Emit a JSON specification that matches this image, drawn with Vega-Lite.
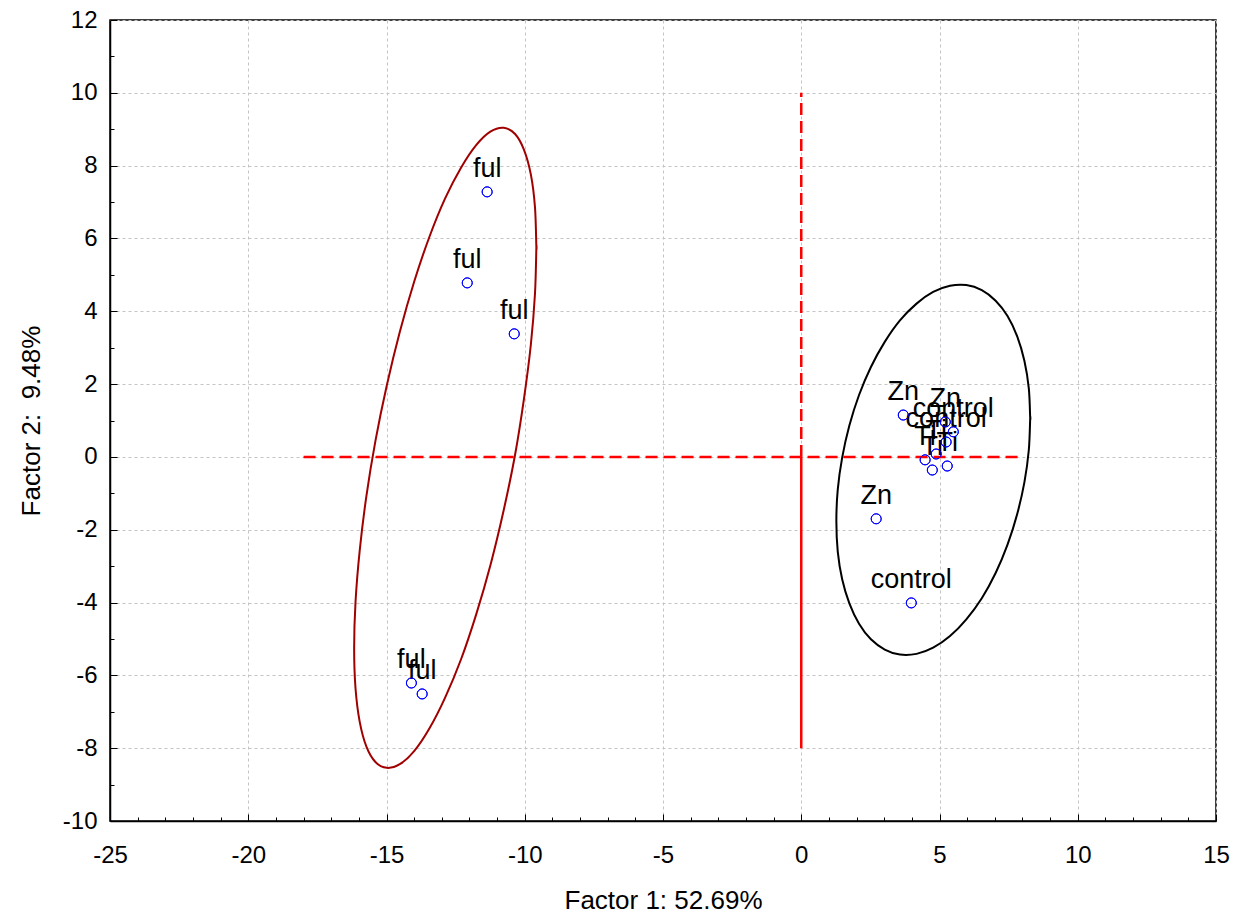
{
  "$schema": "https://vega.github.io/schema/vega-lite/v6.json",
  "width": 1106,
  "height": 801,
  "autosize": {"type": "none"},
  "padding": {"left": 110, "top": 20, "right": 20, "bottom": 93},
  "background": "white",
  "config": {
    "view": {"stroke": "black", "strokeWidth": 1.5},
    "font": "Liberation Sans",
    "axis": {"labelFont": "Liberation Sans", "titleFont": "Liberation Sans", "labelColor": "black", "titleColor": "black", "titleFontWeight": "normal", "domainColor": "black", "tickColor": "black"}
  },
  "datasets": {
    "pts": [
      {"label": "ful", "f1": -11.36, "f2": 7.28},
      {"label": "ful", "f1": -12.08, "f2": 4.78},
      {"label": "ful", "f1": -10.38, "f2": 3.38},
      {"label": "ful", "f1": -14.10, "f2": -6.21},
      {"label": "ful", "f1": -13.71, "f2": -6.51},
      {"label": "Zn", "f1": 3.69, "f2": 1.15},
      {"label": "Zn", "f1": 5.21, "f2": 0.96},
      {"label": "Zn", "f1": 2.71, "f2": -1.70},
      {"label": "control", "f1": 5.50, "f2": 0.69},
      {"label": "control", "f1": 5.24, "f2": 0.41},
      {"label": "control", "f1": 3.98, "f2": -4.01},
      {"label": "Ti", "f1": 4.88, "f2": 0.08},
      {"label": "Ti", "f1": 4.48, "f2": -0.08},
      {"label": "Ti", "f1": 4.74, "f2": -0.36},
      {"label": "Ti", "f1": 5.28, "f2": -0.25}
    ],
    "dashedRules": [
      {"x": -18, "x2": 8, "y": 0, "y2": 0},
      {"x": 0, "x2": 0, "y": 0, "y2": 10}
    ],
    "solidRules": [
      {"x": 0, "x2": 0, "y": -8, "y2": 0}
    ],
    "minorX": [{"v": -25}, {"v": 15}],
    "ellipses": [
      {"g": "ctl", "t": 0, "x": 8.28, "y": 1.06},
      {"g": "ctl", "t": 10, "x": 8.23, "y": 0.19},
      {"g": "ctl", "t": 20, "x": 8.07, "y": -0.70},
      {"g": "ctl", "t": 30, "x": 7.81, "y": -1.57},
      {"g": "ctl", "t": 40, "x": 7.46, "y": -2.41},
      {"g": "ctl", "t": 50, "x": 7.03, "y": -3.19},
      {"g": "ctl", "t": 60, "x": 6.53, "y": -3.88},
      {"g": "ctl", "t": 70, "x": 5.97, "y": -4.46},
      {"g": "ctl", "t": 80, "x": 5.38, "y": -4.92},
      {"g": "ctl", "t": 90, "x": 4.77, "y": -5.24},
      {"g": "ctl", "t": 100, "x": 4.17, "y": -5.41},
      {"g": "ctl", "t": 110, "x": 3.57, "y": -5.43},
      {"g": "ctl", "t": 120, "x": 3.02, "y": -5.29},
      {"g": "ctl", "t": 130, "x": 2.52, "y": -5.01},
      {"g": "ctl", "t": 140, "x": 2.09, "y": -4.58},
      {"g": "ctl", "t": 150, "x": 1.74, "y": -4.02},
      {"g": "ctl", "t": 160, "x": 1.48, "y": -3.36},
      {"g": "ctl", "t": 170, "x": 1.32, "y": -2.60},
      {"g": "ctl", "t": 180, "x": 1.27, "y": -1.77},
      {"g": "ctl", "t": 190, "x": 1.32, "y": -0.90},
      {"g": "ctl", "t": 200, "x": 1.48, "y": -0.02},
      {"g": "ctl", "t": 210, "x": 1.74, "y": 0.86},
      {"g": "ctl", "t": 220, "x": 2.09, "y": 1.70},
      {"g": "ctl", "t": 230, "x": 2.52, "y": 2.47},
      {"g": "ctl", "t": 240, "x": 3.02, "y": 3.16},
      {"g": "ctl", "t": 250, "x": 3.57, "y": 3.75},
      {"g": "ctl", "t": 260, "x": 4.17, "y": 4.21},
      {"g": "ctl", "t": 270, "x": 4.77, "y": 4.53},
      {"g": "ctl", "t": 280, "x": 5.38, "y": 4.70},
      {"g": "ctl", "t": 290, "x": 5.97, "y": 4.72},
      {"g": "ctl", "t": 300, "x": 6.53, "y": 4.58},
      {"g": "ctl", "t": 310, "x": 7.03, "y": 4.29},
      {"g": "ctl", "t": 320, "x": 7.46, "y": 3.87},
      {"g": "ctl", "t": 330, "x": 7.81, "y": 3.31},
      {"g": "ctl", "t": 340, "x": 8.07, "y": 2.64},
      {"g": "ctl", "t": 350, "x": 8.23, "y": 1.88},
      {"g": "ctl", "t": 360, "x": 8.28, "y": 1.06},
      {"g": "ful", "t": 0, "x": -9.58, "y": 5.75},
      {"g": "ful", "t": 10, "x": -9.63, "y": 4.48},
      {"g": "ful", "t": 20, "x": -9.78, "y": 3.08},
      {"g": "ful", "t": 30, "x": -10.03, "y": 1.59},
      {"g": "ful", "t": 40, "x": -10.35, "y": 0.06},
      {"g": "ful", "t": 50, "x": -10.76, "y": -1.46},
      {"g": "ful", "t": 60, "x": -11.23, "y": -2.94},
      {"g": "ful", "t": 70, "x": -11.75, "y": -4.31},
      {"g": "ful", "t": 80, "x": -12.30, "y": -5.55},
      {"g": "ful", "t": 90, "x": -12.88, "y": -6.61},
      {"g": "ful", "t": 100, "x": -13.45, "y": -7.46},
      {"g": "ful", "t": 110, "x": -14.00, "y": -8.08},
      {"g": "ful", "t": 120, "x": -14.52, "y": -8.44},
      {"g": "ful", "t": 130, "x": -14.99, "y": -8.54},
      {"g": "ful", "t": 140, "x": -15.40, "y": -8.38},
      {"g": "ful", "t": 150, "x": -15.73, "y": -7.95},
      {"g": "ful", "t": 160, "x": -15.97, "y": -7.27},
      {"g": "ful", "t": 170, "x": -16.12, "y": -6.36},
      {"g": "ful", "t": 180, "x": -16.17, "y": -5.26},
      {"g": "ful", "t": 190, "x": -16.12, "y": -3.98},
      {"g": "ful", "t": 200, "x": -15.97, "y": -2.58},
      {"g": "ful", "t": 210, "x": -15.73, "y": -1.09},
      {"g": "ful", "t": 220, "x": -15.40, "y": 0.44},
      {"g": "ful", "t": 230, "x": -14.99, "y": 1.96},
      {"g": "ful", "t": 240, "x": -14.52, "y": 3.43},
      {"g": "ful", "t": 250, "x": -14.00, "y": 4.81},
      {"g": "ful", "t": 260, "x": -13.45, "y": 6.04},
      {"g": "ful", "t": 270, "x": -12.88, "y": 7.10},
      {"g": "ful", "t": 280, "x": -12.30, "y": 7.95},
      {"g": "ful", "t": 290, "x": -11.75, "y": 8.57},
      {"g": "ful", "t": 300, "x": -11.23, "y": 8.94},
      {"g": "ful", "t": 310, "x": -10.76, "y": 9.04},
      {"g": "ful", "t": 320, "x": -10.35, "y": 8.87},
      {"g": "ful", "t": 330, "x": -10.03, "y": 8.44},
      {"g": "ful", "t": 340, "x": -9.78, "y": 7.76},
      {"g": "ful", "t": 350, "x": -9.63, "y": 6.86},
      {"g": "ful", "t": 360, "x": -9.58, "y": 5.75}
    ]
  },
  "resolve": {"axis": {"x": "independent", "y": "independent"}},
  "layer": [
    {
      "data": {"name": "minorX"},
      "mark": {"type": "point", "opacity": 0},
      "encoding": {
        "x": {"field": "v", "type": "quantitative", "scale": {"domain": [-25, 15], "nice": false, "zero": false},
          "axis": {"orient": "bottom", "values": [-24,-23,-22,-21,-19,-18,-17,-16,-14,-13,-12,-11,-9,-8,-7,-6,-4,-3,-2,-1,1,2,3,4,6,7,8,9,11,12,13,14], "labels": false, "grid": false, "domain": false, "tickSize": -4, "tickWidth": 1, "title": null}},
        "y": {"datum": 0, "type": "quantitative", "scale": {"domain": [-10, 12], "nice": false, "zero": false},
          "axis": {"orient": "left", "values": [-9,-7,-5,-3,-1,1,3,5,7,9,11], "labels": false, "grid": false, "domain": false, "tickSize": -4, "tickWidth": 1, "title": null}}
      }
    },
    {
      "data": {"name": "pts"},
      "mark": {"type": "point", "shape": "circle", "filled": false, "stroke": "#0000ff", "strokeWidth": 1, "size": 100, "opacity": 1},
      "encoding": {
        "x": {"field": "f1", "type": "quantitative", "scale": {"domain": [-25, 15], "nice": false, "zero": false},
          "axis": {"orient": "bottom", "values": [-25,-20,-15,-10,-5,0,5,10,15], "labelExpr": "datum.value + ''", "grid": true, "gridColor": "#c4c4c4", "gridDash": [3, 3], "gridWidth": 1, "tickSize": -7, "tickWidth": 1, "domainWidth": 1.5, "labelFontSize": 24, "labelPadding": 29, "labelFlush": false, "title": "Factor 1: 52.69%", "titleFontSize": 26, "titlePadding": 20}},
        "y": {"field": "f2", "type": "quantitative", "scale": {"domain": [-10, 12], "nice": false, "zero": false},
          "axis": {"orient": "left", "values": [-10,-8,-6,-4,-2,0,2,4,6,8,10,12], "labelExpr": "datum.value + ''", "grid": true, "gridColor": "#c4c4c4", "gridDash": [3, 3], "gridWidth": 1, "tickSize": -7, "tickWidth": 1, "domainWidth": 1.5, "labelFontSize": 24, "labelPadding": 20, "labelFlush": false, "title": "Factor 2: \u00a09.48%", "titleFontSize": 26, "titlePadding": 18}}
      }
    },
    {
      "data": {"name": "dashedRules"},
      "mark": {"type": "rule", "color": "#ff0000", "strokeWidth": 2.5, "strokeDash": [12, 6]},
      "encoding": {
        "x": {"field": "x", "type": "quantitative", "axis": null},
        "x2": {"field": "x2"},
        "y": {"field": "y", "type": "quantitative", "axis": null},
        "y2": {"field": "y2"}
      }
    },
    {
      "data": {"name": "solidRules"},
      "mark": {"type": "rule", "color": "#ff0000", "strokeWidth": 2.5},
      "encoding": {
        "x": {"field": "x", "type": "quantitative", "axis": null},
        "x2": {"field": "x2"},
        "y": {"field": "y", "type": "quantitative", "axis": null},
        "y2": {"field": "y2"}
      }
    },
    {
      "data": {"name": "ellipses"},
      "mark": {"type": "line", "strokeWidth": 2, "interpolate": "cardinal-closed"},
      "encoding": {
        "x": {"field": "x", "type": "quantitative", "axis": null},
        "y": {"field": "y", "type": "quantitative", "axis": null},
        "order": {"field": "t", "type": "quantitative"},
        "color": {"field": "g", "type": "nominal", "scale": {"domain": ["ful", "ctl"], "range": ["#a00000", "#000000"]}, "legend": null}
      }
    },
    {
      "data": {"name": "pts"},
      "mark": {"type": "text", "fontSize": 27, "font": "Liberation Sans", "color": "black", "align": "center", "baseline": "alphabetic", "dy": -15},
      "encoding": {
        "x": {"field": "f1", "type": "quantitative", "axis": null},
        "y": {"field": "f2", "type": "quantitative", "axis": null},
        "text": {"field": "label"}
      }
    },
    {
      "data": {"name": "pts"},
      "mark": {"type": "point", "shape": "circle", "filled": false, "stroke": "#0000ff", "strokeWidth": 1, "size": 100, "opacity": 1},
      "encoding": {
        "x": {"field": "f1", "type": "quantitative", "axis": null},
        "y": {"field": "f2", "type": "quantitative", "axis": null}
      }
    }
  ]
}
